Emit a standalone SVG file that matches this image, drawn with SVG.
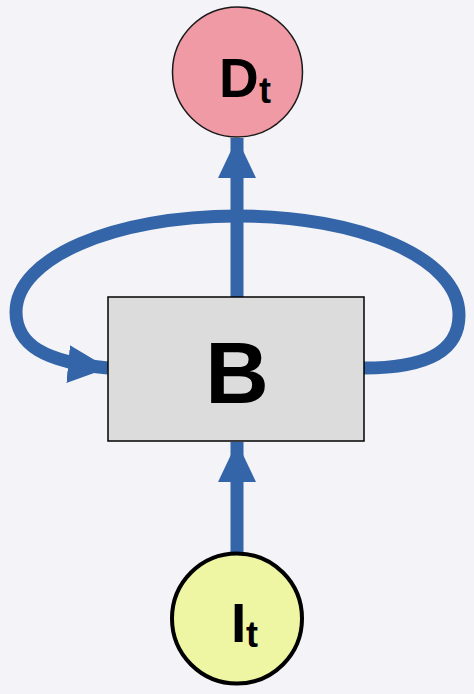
<svg xmlns="http://www.w3.org/2000/svg" width="474" height="694" viewBox="0 0 474 694">
<style>
.conn{fill:none;stroke:#3465a8;stroke-width:13}
.lbl{font-family:"Liberation Sans",Arial,sans-serif;font-weight:bold;fill:#000}
</style>
<defs>
<marker id="ah" markerUnits="userSpaceOnUse" viewBox="0 0 40 38" refX="40" refY="19" markerWidth="40" markerHeight="38" orient="auto">
<path d="M0,0 L40,19 L0,38 Z" fill="#3465a8"/>
</marker>
</defs>
<rect width="474" height="694" fill="#f4f4f8"/>
<g id="connectors">
<path class="conn" d="M237,297 V138" marker-end="url(#ah)"/>
<path class="conn" d="M237,552 V442" marker-end="url(#ah)"/>
<path class="conn" d="M364,368 C420,368 459,355 459,315 C459,258 360,216 237,216 C114,216 16,258 16,312 C16,345 45,362 108,368" marker-end="url(#ah)"/>
</g>
<g id="node-D">
<circle cx="237.5" cy="72" r="65" fill="#ef9aa4" stroke="#1a1a1a" stroke-width="1.5"/>
<text class="lbl" x="219" y="97" font-size="55">D</text>
<text class="lbl" x="259" y="103" font-size="36">t</text>
</g>
<g id="node-B">
<rect x="108" y="297" width="256" height="144" fill="#dcdcdc" stroke="#000" stroke-width="1.5"/>
<text class="lbl" x="237" y="403" font-size="88" text-anchor="middle">B</text>
</g>
<g id="node-I">
<circle cx="237" cy="618.5" r="65" fill="#eef5a3" stroke="#000" stroke-width="4"/>
<text class="lbl" x="231" y="642" font-size="55">I</text>
<text class="lbl" x="246" y="647" font-size="36">t</text>
</g>
</svg>
